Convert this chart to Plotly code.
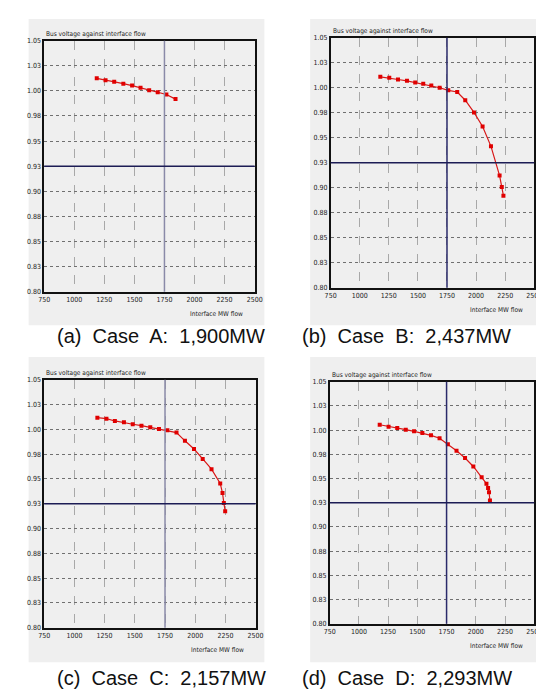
import plotly.graph_objects as go

# ---- data ----
case_a_x = [1187, 1260, 1332, 1408, 1481, 1551, 1623, 1694, 1766, 1842]
case_a_y = [1.0125, 1.0105, 1.0092, 1.0072, 1.0053, 1.0030, 1.0007, 0.9987, 0.9964, 0.9918]

case_b_x = [1177, 1254, 1329, 1406, 1477, 1546, 1615, 1687, 1761, 1838, 1907, 1982, 2056, 2128, 2202, 2221, 2235]
case_b_y = [1.0109, 1.0099, 1.0082, 1.0069, 1.0053, 1.0039, 1.0023, 1.0000, 0.9974, 0.9957,
            0.9875, 0.9753, 0.9612, 0.9414, 0.9122, 0.9007, 0.8921]

case_c_x = [1190, 1265, 1335, 1410, 1483, 1555, 1628, 1700, 1770, 1845, 1915, 1990, 2062, 2135, 2207, 2226, 2237, 2248]
case_c_y = [1.0117, 1.0107, 1.0084, 1.0071, 1.0051, 1.0037, 1.0021, 1.0004, 0.9991, 0.9967,
            0.9884, 0.9801, 0.9701, 0.9598, 0.9455, 0.9358, 0.9258, 0.9175]

case_d_x = [1178, 1254, 1328, 1401, 1472, 1543, 1617, 1690, 1761, 1835, 1908, 1979, 2050, 2091, 2105, 2113, 2121]
case_d_y = [1.0055, 1.0035, 1.0021, 1.0004, 0.9987, 0.9970, 0.9946, 0.9916, 0.9855, 0.9787,
            0.9712, 0.9624, 0.9512, 0.9447, 0.9403, 0.9359, 0.9274]

captions = ["(a)  Case  A:  1,900MW", "(b)  Case  B:  2,437MW",
            "(c)  Case  C:  2,157MW", "(d)  Case  D:  2,293MW"]

x_ticks = [750, 1000, 1250, 1500, 1750, 2000, 2250, 2500]
x_tick_labels = ["750", "1000", "1250", "1500", "1750", "2000", "2250", "2500"]
y_ticks = [0.80, 0.825, 0.85, 0.875, 0.90, 0.925, 0.95, 0.975, 1.00, 1.025, 1.05]
y_tick_labels = ["0.80", "0.83", "0.85", "0.88", "0.90", "0.93", "0.95", "0.98", "1.00", "1.03", "1.05"]

limit_flow = 1750
limit_voltage = 0.925

chart_title = "Bus voltage against interface flow"
x_title = "Interface MW flow"

W, H = 544, 689

# panel layout in pixels: plot area (l, r, t, b), grey box (l, r, t, b), caption center (x, y)
panels = [
    dict(x=case_a_x, y=case_a_y, plot=(31, 247, 29, 283), box=(15, 257, 7, 317), cap=(151, 328), vcol="#8a8aa8"),
    dict(x=case_b_x, y=case_b_y, plot=(325, 534, 26, 279), box=(304, 544, 7, 317), cap=(403, 328), vcol="#2a2a6a"),
    dict(x=case_c_x, y=case_c_y, plot=(31, 248, 372, 623), box=(15, 257, 349, 658), cap=(151, 674), vcol="#8a8aa8"),
    dict(x=case_d_x, y=case_d_y, plot=(324, 534, 374, 619), box=(304, 544, 349, 658), cap=(403, 674), vcol="#2a2a6a"),
]

def px(x):
    return x / W

def py(y):
    return 1 - y / H

narrow = "DejaVu Sans Condensed, Liberation Sans Narrow, Arial Narrow, sans-serif"
small_font = dict(family=narrow, size=7, color="#222222")

fig = go.Figure()
shapes = []
annotations = []
layout_axes = {}

for i, p in enumerate(panels):
    n = "" if i == 0 else str(i + 1)
    xa, ya = "x" + n, "y" + n
    l, r, t, b = p["plot"]
    bl, br, bt, bb = p["box"]
    # grey background box
    shapes.append(dict(type="rect", xref="paper", yref="paper", x0=px(bl), x1=px(br), y0=py(bb), y1=py(bt),
                       fillcolor="#efefef", line=dict(width=0), layer="below"))
    layout_axes["xaxis" + n] = dict(domain=[px(l), px(r)], anchor=ya, range=[750, 2500],
                                   tickvals=x_ticks, ticktext=x_tick_labels, showgrid=True,
                                   gridcolor="#a8a8a8", griddash="dash", gridwidth=1,
                                   showline=True, linecolor="#111111", linewidth=1.5, mirror=True,
                                   zeroline=False, ticks="", tickfont=small_font, fixedrange=True)
    layout_axes["yaxis" + n] = dict(domain=[py(b), py(t)], anchor=xa, range=[0.80, 1.05],
                                   tickvals=y_ticks, ticktext=y_tick_labels, showgrid=True,
                                   gridcolor="#707070", griddash="dot", gridwidth=1,
                                   showline=True, linecolor="#111111", linewidth=1.5, mirror=True,
                                   zeroline=False, ticks="", tickfont=small_font, fixedrange=True)
    # limit lines
    shapes.append(dict(type="line", xref=xa, yref=ya + " domain", x0=limit_flow, x1=limit_flow, y0=0, y1=1,
                       line=dict(color=p["vcol"], width=1.5)))
    shapes.append(dict(type="line", xref=xa + " domain", yref=ya, x0=0, x1=1, y0=limit_voltage, y1=limit_voltage,
                       line=dict(color="#1c1c55", width=1.5)))
    fig.add_trace(go.Scatter(x=p["x"], y=p["y"], xaxis=xa, yaxis=ya, mode="lines+markers",
                             line=dict(color="#d81818", width=1.2),
                             marker=dict(symbol="square", size=4, color="#e00000"),
                             showlegend=False, hoverinfo="skip"))
    # chart title
    annotations.append(dict(text=chart_title, xref="paper", yref="paper", x=px(l), y=py(t - 1),
                            xanchor="left", yanchor="bottom", showarrow=False,
                            font=dict(family=narrow, size=6.5, color="#222222")))
    # x title
    annotations.append(dict(text=x_title, xref="paper", yref="paper", x=px(l + (r - l) * 0.955), y=py(b + 16),
                            xanchor="right", yanchor="top", showarrow=False,
                            font=dict(family=narrow, size=6.5, color="#222222")))
    # caption
    cx, cy = p["cap"]
    annotations.append(dict(text=captions[i], xref="paper", yref="paper", x=px(cx), y=py(cy),
                            xanchor="center", yanchor="middle", showarrow=False, borderpad=0,
                            font=dict(family="Liberation Sans, Arial, sans-serif", size=20, color="#111111")))

fig.update_layout(width=W, height=H, margin=dict(l=0, r=0, t=0, b=0),
                  paper_bgcolor="white", plot_bgcolor="white",
                  shapes=shapes, annotations=annotations, **layout_axes)

fig.write_html("out.html")
